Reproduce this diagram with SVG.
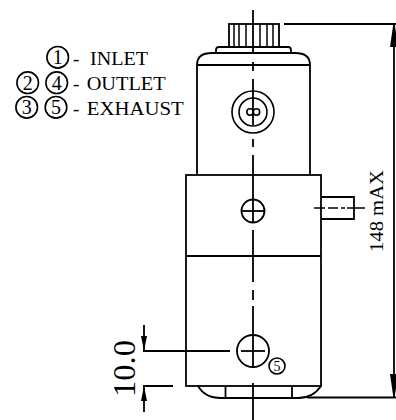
<svg xmlns="http://www.w3.org/2000/svg" width="396" height="420" viewBox="0 0 396 420">
<style>
.l{fill:none;stroke:#000;stroke-width:1.8}
.t{stroke-width:1.5}
.c{fill:none;stroke:#000;stroke-width:1.6}
text{font-family:"Liberation Serif",serif;fill:#000}
.s{font-size:19px}
.n{font-size:20px;text-anchor:middle}
</style>
<defs>
<marker id="a" markerUnits="userSpaceOnUse" markerWidth="23" markerHeight="9" refX="23" refY="4.500" viewBox="0 0 23 9" orient="auto"><path d="M0 3.800L23 .5V8.500L0 5.200Z" transform="rotate(180 11.500 4.500)" fill="#000"/></marker>
<marker id="b" markerUnits="userSpaceOnUse" markerWidth="15" markerHeight="6" refX="15" refY="3" viewBox="0 0 15 6" orient="auto"><path d="M0 0L15 3L0 6Z" fill="#000"/></marker>
</defs>
<rect width="396" height="420" fill="#fff"/>
<g id="knob" class="l">
<rect x="229" y="24" width="50" height="23"/>
<path class="t" d="M234 24V47M239 24V47M246 24V47M260 24V47M267 24V47M273 24V47"/>
<path d="M216 53V50Q216 47 219 47H288Q291 47 291 50V53"/>
</g>
<g id="cap" class="l">
<path d="M197 175V65Q197 53 212 53H295Q310 53 310 65V175M197 65H310"/>
</g>
<g id="port-top" class="c">
<circle cx="253" cy="112" r="21"/><circle cx="253" cy="112" r="14"/>
<circle cx="250" cy="112" r="3.200"/><circle cx="256.500" cy="112" r="3.200"/>
</g>
<g id="block" class="l">
<rect x="186" y="175" width="135" height="211"/>
<path d="M186 256H321"/>
</g>
<g id="stub" class="l"><path d="M321 197H354V219H321"/></g>
<g id="port-mid" class="l"><circle cx="253" cy="211" r="11.500"/><path d="M242 211H264"/></g>
<g id="port-bottom" class="l"><circle cx="253" cy="351" r="16"/><path d="M241 351H265"/></g>
<g id="foot" class="l"><path d="M198 386Q205 398 221 398H298Q313 398 321 386M225.500 386V398M292 386V398"/></g>
<g id="port-5"><circle class="c" cx="277" cy="366" r="8"/><text x="277" y="371" font-size="14" text-anchor="middle">5</text></g>
<g id="legend">
<g class="c"><circle cx="57.700" cy="57.300" r="10.800"/><circle cx="27.700" cy="82.700" r="10.800"/><circle cx="56.700" cy="82.700" r="10.800"/><circle cx="26.700" cy="107.300" r="10.800"/><circle cx="56" cy="107.300" r="10.800"/></g>
<text class="n" x="57.700" y="64">1</text><text class="n" x="27.700" y="89.500">2</text><text class="n" x="56.700" y="89.500">4</text><text class="n" x="26.700" y="114">3</text><text class="n" x="56" y="114">5</text>
<text class="s" x="73" y="65">-</text><text class="s" x="73" y="90">-</text><text class="s" x="73" y="115">-</text>
<text class="s" x="90" y="65" textLength="58" lengthAdjust="spacingAndGlyphs">INLET</text><text class="s" x="86.700" y="90" textLength="79" lengthAdjust="spacingAndGlyphs">OUTLET</text><text class="s" x="86.700" y="115" textLength="97" lengthAdjust="spacingAndGlyphs">EXHAUST</text>
</g>
<g id="connectors">
<path class="l" d="M253 10V53M253 62V71M253 79V125M253 139V147M253 155V222M253 230V282M253 290V300M253 306V367M253 383V420"/>
<path class="t" fill="none" stroke="#000" d="M314 208H325M328 208H338M341 208H345M347 208H365"/>
<path class="l" d="M284 24H396M307 397.500H396M143 351H230M143 386H173"/>
<path class="l" d="M394 210V24" marker-end="url(#a)"/>
<path class="l" d="M394 210V397" marker-end="url(#a)"/>
<path class="l" d="M144 325V351" marker-end="url(#b)"/>
<path class="l" d="M144 412V386" marker-end="url(#b)"/>
</g>
<g id="dims">
<text transform="translate(383 252) rotate(-90)" font-size="19" textLength="82" lengthAdjust="spacingAndGlyphs">148 mAX</text>
<text transform="translate(135 397) rotate(-90)" font-size="32" textLength="57" lengthAdjust="spacingAndGlyphs">10.0</text>
</g>
</svg>
